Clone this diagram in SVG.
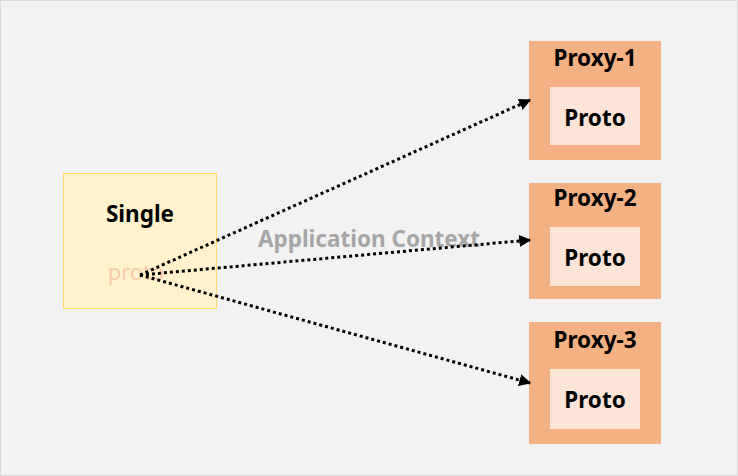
<svg xmlns="http://www.w3.org/2000/svg" width="738" height="476" viewBox="0 0 738 476">
<style>
.t{font-family:"Noto Sans","DejaVu Sans",sans-serif;font-weight:bold;font-size:22.5px;text-anchor:middle;fill:#000}
.outer{fill:#f4b183}
.inner{fill:#fce4d6}
.c{stroke:#000;stroke-width:3;stroke-dasharray:3 3;fill:none;marker-end:url(#ah)}
</style>
<defs>
<marker id="ah" viewBox="0 0 10 10" refX="9" refY="5" markerWidth="4" markerHeight="4" orient="auto" markerUnits="strokeWidth">
<path d="M0,0 L10,5 L0,10 z" fill="#000"/>
</marker>
</defs>
<rect x="0.5" y="0.5" width="737" height="475" fill="#f2f2f2" stroke="#d9d9d9"/>
<g id="single">
<rect x="63.5" y="173.5" width="153" height="135" fill="#fff2cc" stroke="#ffd966"/>
<text class="t" x="140" y="222">Single</text>
<text x="136" y="280" style="font-family:'Noto Sans','DejaVu Sans',sans-serif;font-size:22px;text-anchor:middle;fill:#f8cbad">proto</text>
</g>
<g id="label">
<text class="t" x="369" y="247" style="fill:#a6a6a6">Application Context</text>
</g>
<g id="proxy1">
<rect class="outer" x="529" y="41" width="132" height="119"/>
<rect class="inner" x="550" y="87" width="90" height="58"/>
<text class="t" x="595" y="66">Proxy-1</text>
<text class="t" x="595" y="126">Proto</text>
</g>
<g id="proxy2">
<rect class="outer" x="529" y="183" width="132" height="116"/>
<rect class="inner" x="550" y="227" width="90" height="59"/>
<text class="t" x="595" y="206">Proxy-2</text>
<text class="t" x="595" y="266">Proto</text>
</g>
<g id="proxy3">
<rect class="outer" x="529" y="322" width="132" height="122"/>
<rect class="inner" x="550" y="369" width="90" height="60"/>
<text class="t" x="595" y="348">Proxy-3</text>
<text class="t" x="595" y="408">Proto</text>
</g>
<g id="connectors">
<path class="c" d="M140,275 L530,100"/>
<path class="c" d="M140,275 L530,240"/>
<path class="c" d="M140,275 L530,383"/>
</g>
</svg>
